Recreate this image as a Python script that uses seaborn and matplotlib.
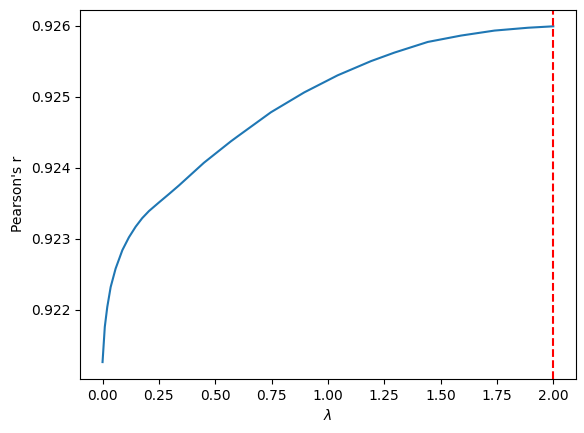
import matplotlib
matplotlib.use("Agg")
import matplotlib.pyplot as plt
import seaborn as sns
import pandas as pd

# Regularisation strength vs correlation
lambdas = [0.0, 0.010, 0.021, 0.036, 0.058, 0.088, 0.117, 0.147, 0.176,
           0.206, 0.250, 0.295, 0.339, 0.391, 0.450, 0.569, 0.599, 0.747,
           0.895, 1.043, 1.191, 1.295, 1.443, 1.591, 1.739, 1.888, 2.0]
pearson_r = [0.921264, 0.92176, 0.92204, 0.92232, 0.92258, 0.92284, 0.92302,
             0.92317, 0.92329, 0.92339, 0.92351, 0.92363, 0.92375, 0.92390,
             0.92407, 0.92437, 0.92444, 0.92478, 0.92506, 0.92530, 0.92550,
             0.92562, 0.92577, 0.92586, 0.92593, 0.92597, 0.92599]
best_lambda = 2.0


def main():
    df = pd.DataFrame({"lambda": lambdas, "r": pearson_r})

    fig, ax = plt.subplots(figsize=(5.84, 4.33), dpi=100)
    fig.subplots_adjust(left=0.137, right=0.986, bottom=0.125, top=0.978)

    sns.lineplot(data=df, x="lambda", y="r", color="C0", ax=ax)
    ax.axvline(best_lambda, color="r", linestyle="--")

    ax.set_xlabel(r"$\lambda$")
    ax.set_ylabel("Pearson's r")

    fig.savefig("out.png")
    plt.close(fig)


if __name__ == "__main__":
    main()
